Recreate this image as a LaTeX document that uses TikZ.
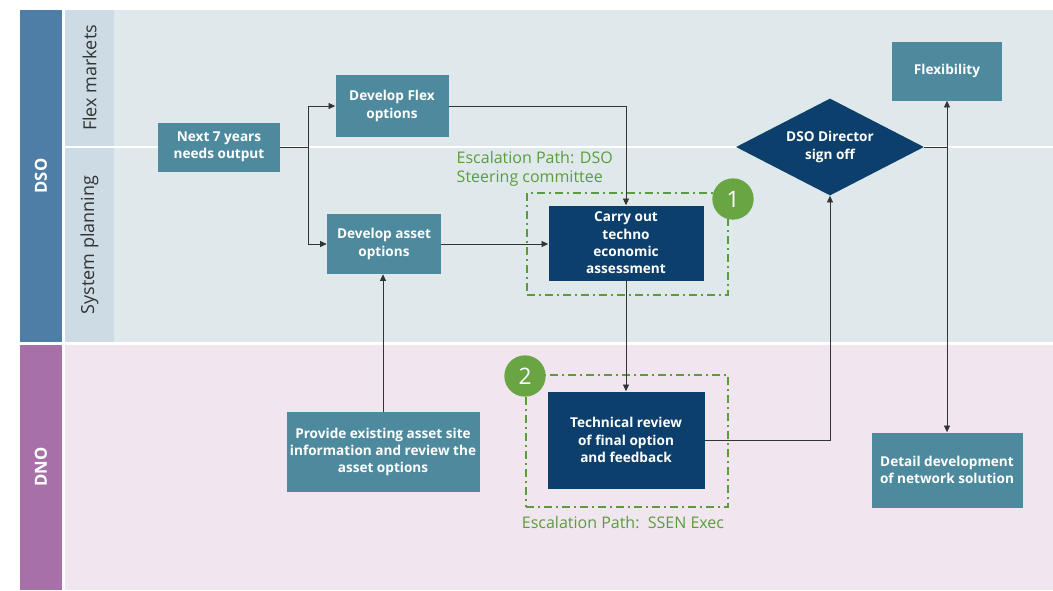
\documentclass[tikz,border=0pt]{standalone}
\usepackage{fontspec}
\setmainfont{Open Sans}
\usepackage{xcolor}
\usepackage{tikz}
\usetikzlibrary{shapes.geometric, arrows.meta, calc}

\definecolor{dsoband}{HTML}{4E7EA6}
\definecolor{dnoband}{HTML}{A870A8}
\definecolor{lanehead}{HTML}{CDDBE4}
\definecolor{lanebody}{HTML}{DFE9EC}
\definecolor{dnobody}{HTML}{F1E5EF}
\definecolor{boxteal}{HTML}{4E8A9E}
\definecolor{boxnavy}{HTML}{0D3F6C}
\definecolor{escgreen}{HTML}{5A9D3A}
\definecolor{circgreen}{HTML}{6AA543}
\definecolor{linegrey}{HTML}{333333}

\tikzset{
    tealbox/.style={
        rectangle, fill=boxteal, text=white, align=center, inner sep=0pt,
        font=\fontsize{10.2}{13}\selectfont\bfseries
    },
    navybox/.style={tealbox, fill=boxnavy},
    lanetext/.style={rotate=90, text=black!80, font=\fontsize{13.5}{15}\selectfont},
    bandtext/.style={rotate=90, text=white, font=\fontsize{12.5}{13}\selectfont\bfseries},
    escbox/.style={draw=escgreen, line width=1.1pt, inner sep=0pt,
        dash pattern=on 6pt off 3pt on 1.5pt off 3pt},
    esctext/.style={text=escgreen, font=\fontsize{12}{14.3}\selectfont},
    badge/.style={circle, fill=circgreen, text=white, minimum size=31pt, inner sep=0pt,
        font=\fontsize{17}{17}\selectfont},
    conn/.style={draw=linegrey, line width=0.6pt},
    arr/.style={conn, -{Triangle[length=5pt, width=4.5pt]}}
}

\begin{document}
\begin{tikzpicture}[x=0.75pt, y=-0.75pt]
    \useasboundingbox (0,0) rectangle (1053,590);

    % lanes
    \fill[dsoband] (20,10) rectangle (62,342);
    \fill[dnoband] (20,345) rectangle (62,590);
    \fill[lanehead] (65,10) rectangle (114,146);
    \fill[lanehead] (65,148) rectangle (114,342);
    \fill[lanebody] (114,10) rectangle (1053,146);
    \fill[lanebody] (114,148) rectangle (1053,342);
    \fill[dnobody] (65,345) rectangle (1053,590);

    \node[bandtext] (dso) at (41,176) {DSO};
    \node[bandtext] (dno) at (41,467) {DNO};
    \node[lanetext] (flexlane) at (89.5,78) {Flex markets};
    \node[lanetext] (planlane) at (89.5,245) {System planning};

    % escalation boxes
    \node[escbox, minimum width=150.75pt, minimum height=76.5pt] (esc1) at (627.5,244) {};
    \node[escbox, minimum width=151.5pt, minimum height=99pt] (esc2) at (627,441) {};
    \node[esctext, anchor=north west, align=left] (esc1text) at (452,147)
        {Escalation Path: DSO\\Steering committee};
    \node[esctext] (esc2text) at (623,523) {Escalation Path:\ \ SSEN Exec};

    % steps
    \node[tealbox, minimum width=91.5pt, minimum height=36.75pt] (next) at (219,147)
        {Next 7 years\\needs output};
    \node[tealbox, minimum width=84.75pt, minimum height=46.5pt] (flex) at (392,106)
        {Develop Flex\\options};
    \node[tealbox, minimum width=85.5pt, minimum height=45pt] (asset) at (384,244)
        {Develop asset\\options};
    \node[navybox, minimum width=116.25pt, minimum height=56.25pt] (carry) at (626,243)
        {Carry out\\techno\\economic\\assessment};
    \node[tealbox, minimum width=144.75pt, minimum height=60pt] (provide) at (383,452)
        {Provide existing asset site\\information and review the\\asset options};
    \node[navybox, minimum width=117.75pt, minimum height=72.75pt] (review) at (626,440)
        {Technical review\\of final option\\and feedback};
    \node[diamond, aspect=1.94, fill=boxnavy, text=white, align=center, inner sep=0pt,
        minimum width=141pt, minimum height=72.75pt,
        font=\fontsize{10.2}{13}\selectfont\bfseries] (signoff) at (830,147)
        {DSO Director\\sign off};
    \node[tealbox, minimum width=82.5pt, minimum height=44.25pt] (flexi) at (947,71)
        {Flexibility};
    \node[tealbox, minimum width=113.25pt, minimum height=56.25pt] (detail) at (947,470)
        {Detail development\\of network solution};

    \node[badge] (one) at (733,199) {1};
    \node[badge] (two) at (525,376) {2};

    % connectors
    \draw[conn] (next.east) -- ++(28,0) coordinate (split);
    \draw[arr] (split) |- (flex.west);
    \draw[arr] (split) |- (asset.west);
    \draw[arr] (flex.east) -| (carry.north);
    \draw[arr] (asset.east) -- (asset.east -| carry.west);
    \draw[arr] (provide.north) -- (provide.north |- asset.south);
    \draw[arr] (carry.south) -- (review.north);
    \draw[arr] (review.east) -| (signoff.south);
    \draw[conn] (signoff.east) -- (signoff.east -| flexi.south) coordinate (fork);
    \draw[arr] (fork) -- (flexi.south);
    \draw[arr] (fork) -- (detail.north);
\end{tikzpicture}
\end{document}
